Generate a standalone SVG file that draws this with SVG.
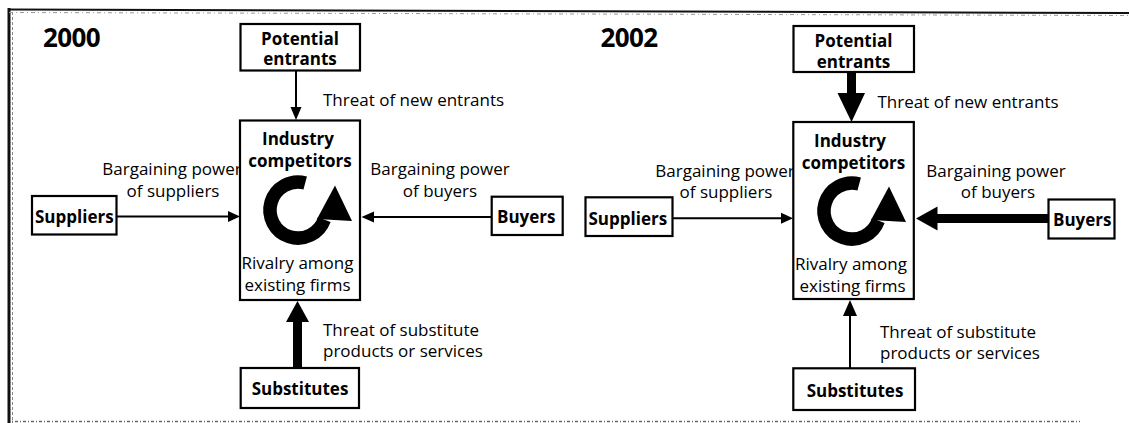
<svg xmlns="http://www.w3.org/2000/svg" width="1129" height="423" viewBox="0 0 1129 423">
  <style>
    .box { fill: #fff; stroke: #000; stroke-width: 2.2; }
    .bold { font-family: "Open Sans", "Liberation Sans", sans-serif; font-weight: bold; font-size: 17px; fill: #000; }
    .year { font-family: "Open Sans", "Liberation Sans", sans-serif; font-weight: bold; font-size: 26px; letter-spacing: -0.6px; fill: #000; }
    .lbl { font-family: "Open Sans", "Liberation Sans", sans-serif; font-size: 17px; fill: #000; }
    .mid { text-anchor: middle; }
    .thin { stroke: #000; stroke-width: 2; fill: none; }
    .head { fill: #000; stroke: none; }
  </style>
  <defs>
    <!-- circular rivalry arrow, centred on the origin -->
    <g id="cycle">
      <path d="M 7.2 -27 A 28 28 0 1 0 26.3 9.6" fill="none" stroke="#000" stroke-width="13.5"/>
      <polygon points="37,-24.5 54,11 19,9" fill="#000"/>
    </g>
  </defs>

  <rect width="1129" height="423" fill="#fff"/>

  <!-- frame -->
  <g id="frame">
    <line x1="9" y1="8" x2="9" y2="423" stroke="#111" stroke-width="3"/>
    <line x1="12.5" y1="12" x2="12.5" y2="423" stroke="#888" stroke-width="1" stroke-dasharray="3 2"/>
    <line x1="9" y1="9.5" x2="1129" y2="13" stroke="#111" stroke-width="2"/>
    <line x1="9" y1="12.5" x2="1129" y2="15.5" stroke="#999" stroke-width="1" stroke-dasharray="4 3 1 3"/>
    <line x1="12" y1="421.5" x2="1080" y2="421.5" stroke="#666" stroke-width="1.5" stroke-dasharray="1 2 3 2"/>
  </g>

  <!-- free labels (drawn before the boxes so the box edges clip them) -->
  <g id="labels-2000">
    <text class="year" x="43" y="46.5">2000</text>
    <text class="lbl" x="323" y="106">Threat of new entrants</text>
    <text class="lbl mid" x="172" y="175">Bargaining power</text>
    <text class="lbl mid" x="173" y="197">of suppliers</text>
    <text class="lbl mid" x="440" y="175">Bargaining power</text>
    <text class="lbl mid" x="440" y="197">of buyers</text>
    <text class="lbl" x="323" y="336">Threat of substitute</text>
    <text class="lbl" x="323" y="357">products or services</text>
  </g>
  <g id="labels-2002">
    <text class="year" x="600.5" y="46.7">2002</text>
    <text class="lbl" x="877.5" y="108">Threat of new entrants</text>
    <text class="lbl mid" x="725" y="177">Bargaining power</text>
    <text class="lbl mid" x="726" y="198">of suppliers</text>
    <text class="lbl mid" x="996" y="177">Bargaining power</text>
    <text class="lbl mid" x="998" y="198">of buyers</text>
    <text class="lbl" x="880" y="338">Threat of substitute</text>
    <text class="lbl" x="880" y="359">products or services</text>
  </g>

  <!-- connectors -->
  <g id="connectors">
    <!-- 2000 -->
    <line class="thin" x1="296" y1="71" x2="296" y2="108"/>
    <polygon class="head" points="296,120 290.5,107 301.5,107"/>
    <line class="thin" x1="117" y1="216.5" x2="229" y2="216.5"/>
    <polygon class="head" points="240,216.5 228,211 228,222"/>
    <line class="thin" x1="491.5" y1="217" x2="373" y2="217"/>
    <polygon class="head" points="361.5,217 374,211.5 374,222.5"/>
    <rect class="head" x="293" y="321" width="9" height="47"/>
    <polygon class="head" points="297.5,301 286,322 309,322"/>
    <!-- 2002 -->
    <rect class="head" x="847" y="72" width="9" height="22"/>
    <polygon class="head" points="851.5,122 837.5,93 865,93"/>
    <line class="thin" x1="672.5" y1="218.3" x2="782" y2="218.3"/>
    <polygon class="head" points="793,218.3 781,212.8 781,223.8"/>
    <rect class="head" x="936" y="214" width="113" height="9"/>
    <polygon class="head" points="916,218.5 937.5,206.5 937.5,230.5"/>
    <line class="thin" x1="850" y1="368" x2="850" y2="315"/>
    <polygon class="head" points="850,300 843,316 857,316"/>
  </g>

  <!-- 2000 nodes -->
  <g id="potential-2000">
    <rect class="box" x="240.5" y="24" width="119.5" height="46.5"/>
    <text class="bold mid" x="300" y="45">Potential</text>
    <text class="bold mid" x="300" y="65">entrants</text>
  </g>
  <g id="industry-2000">
    <rect class="box" x="240" y="120.5" width="120" height="179.5"/>
    <text class="bold mid" x="298" y="145">Industry</text>
    <text class="bold mid" x="300" y="167">competitors</text>
    <use href="#cycle" x="298" y="210"/>
    <text class="lbl mid" x="297.5" y="269">Rivalry among</text>
    <text class="lbl mid" x="297.5" y="291">existing firms</text>
  </g>
  <g id="suppliers-2000">
    <rect class="box" x="32" y="196" width="84.5" height="38.5"/>
    <text class="bold" x="35" y="222.5">Suppliers</text>
  </g>
  <g id="buyers-2000">
    <rect class="box" x="491.7" y="196.7" width="71" height="38.3"/>
    <text class="bold" x="497" y="223">Buyers</text>
  </g>
  <g id="substitutes-2000">
    <rect class="box" x="240.7" y="368" width="118.3" height="40"/>
    <text class="bold mid" x="300" y="395">Substitutes</text>
  </g>

  <!-- 2002 nodes -->
  <g id="potential-2002">
    <rect class="box" x="793.5" y="26" width="120.5" height="46"/>
    <text class="bold mid" x="853.5" y="47">Potential</text>
    <text class="bold mid" x="853.5" y="68">entrants</text>
  </g>
  <g id="industry-2002">
    <rect class="box" x="793.3" y="122" width="120.5" height="177"/>
    <text class="bold mid" x="850" y="146.5">Industry</text>
    <text class="bold mid" x="853.5" y="169">competitors</text>
    <use href="#cycle" x="852" y="211"/>
    <text class="lbl mid" x="851" y="270">Rivalry among</text>
    <text class="lbl mid" x="852.5" y="292">existing firms</text>
  </g>
  <g id="suppliers-2002">
    <rect class="box" x="585.5" y="197.3" width="87" height="38.7"/>
    <text class="bold" x="588.5" y="224.5">Suppliers</text>
  </g>
  <g id="buyers-2002">
    <rect class="box" x="1048.5" y="199.5" width="66" height="39"/>
    <text class="bold" x="1053" y="225.5">Buyers</text>
  </g>
  <g id="substitutes-2002">
    <rect class="box" x="793.3" y="368.3" width="121.7" height="41.7"/>
    <text class="bold mid" x="855" y="397">Substitutes</text>
  </g>
</svg>
